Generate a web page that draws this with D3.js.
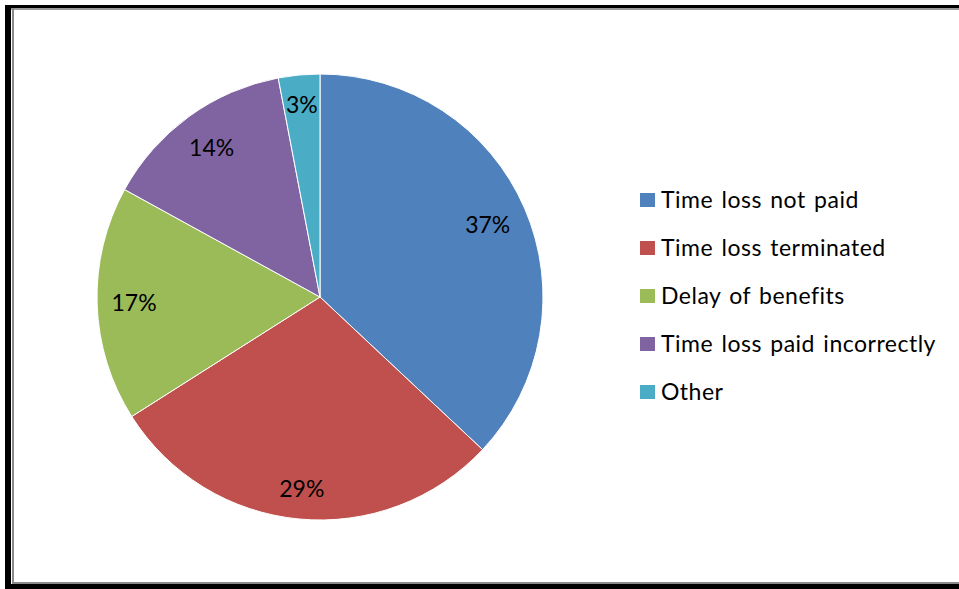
<!DOCTYPE html>
<html><head><meta charset="utf-8">
<script src="https://cdn.jsdelivr.net/npm/d3@7"></script>
<style>html,body{margin:0;padding:0;background:#fff;}svg{display:block;}</style>
</head><body>
<svg id="chart" width="959" height="589"></svg>
<script>
const categories = ["Time loss not paid","Time loss terminated","Delay of benefits","Time loss paid incorrectly","Other"];
const values = [37, 29, 17, 14, 3];
const colors = ["#4F81BD","#C0504D","#9BBB59","#8064A2","#4BACC6"];

const svg = d3.select("#chart");
const W = 959, H = 589;
const font = "Lato, 'Open Sans', sans-serif";

// frame
svg.append("rect").attr("x",0).attr("y",0).attr("width",W).attr("height",H).attr("fill","#fff");
svg.append("rect").attr("x",5).attr("y",5).attr("width",W).attr("height",3).attr("fill","#000");
svg.append("rect").attr("x",5).attr("y",5).attr("width",6).attr("height",H).attr("fill","#000");
svg.append("rect").attr("x",5).attr("y",584).attr("width",W).attr("height",5).attr("fill","#000");
svg.append("rect").attr("x",11).attr("y",8).attr("width",W).attr("height",2).attr("fill","#9a9a9a");
svg.append("rect").attr("x",12).attr("y",8).attr("width",2).attr("height",576).attr("fill","#8a8a8a");
svg.append("rect").attr("x",12).attr("y",582).attr("width",W).attr("height",2).attr("fill","#8a8a8a");

const cx = 320, cy = 297, r = 223;
const pie = d3.pie().sort(null).value(d => d);
const arcs = pie(values);
const arc = d3.arc().innerRadius(0).outerRadius(r);
const totals = d3.sum(values);

const g = svg.append("g").attr("transform", `translate(${cx},${cy})`);
g.selectAll("path").data(arcs).join("path")
  .attr("d", arc)
  .attr("fill", (d,i) => colors[i])
  .attr("stroke", "#fff").attr("stroke-width", 1);

const fs = 23, lineH = 28, margin = 14;
const labels = g.selectAll("text").data(arcs).join("text")
  .attr("text-anchor","middle")
  .attr("font-family", font).attr("font-size", fs).attr("fill","#000")
  .text(d => Math.round(d.data / totals * 100) + "%");
labels.each(function(d){
  const w = this.getComputedTextLength();
  const a = (d.startAngle + d.endAngle) / 2;
  const sx = Math.sin(a), sy = -Math.cos(a);
  const rho = r - margin - (Math.abs(sx)*w/2 + Math.abs(sy)*lineH/2);
  d3.select(this).attr("x", sx*rho).attr("y", sy*rho + fs*0.36);
});

// legend
const lg = svg.append("g").attr("transform","translate(640,193)");
const rows = lg.selectAll("g").data(categories).join("g")
  .attr("transform", (d,i) => `translate(0,${i*48})`);
rows.append("rect").attr("width",15).attr("height",14).attr("fill",(d,i)=>colors[i]);
rows.append("text").attr("x",21).attr("y",15)
  .attr("font-family", font).attr("font-size", 23).attr("fill","#000")
  .attr("letter-spacing", 0.5).attr("word-spacing", 2)
  .text(d => d);
</script>
</body></html>
